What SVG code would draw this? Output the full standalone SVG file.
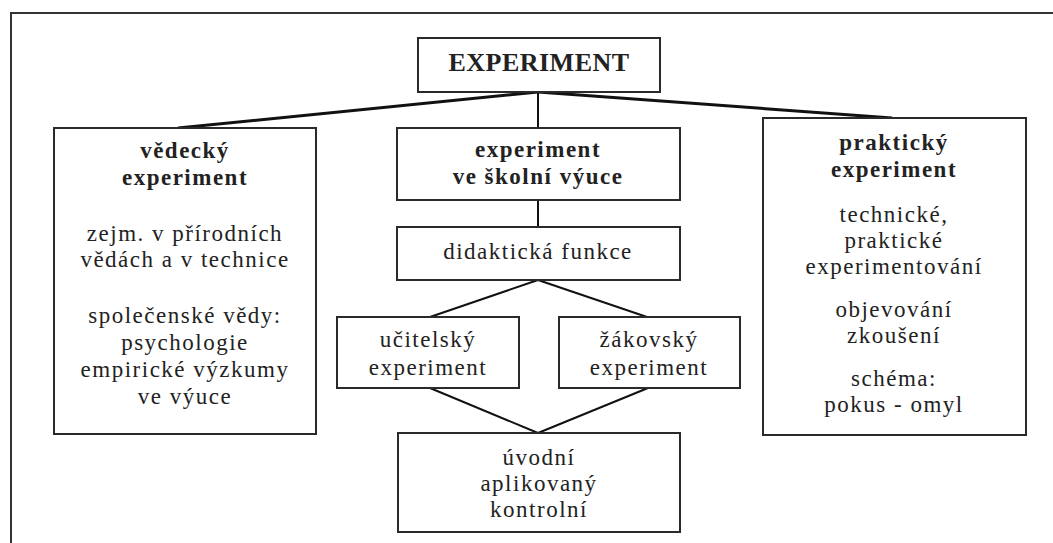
<svg xmlns="http://www.w3.org/2000/svg" width="1053" height="543" viewBox="0 0 1053 543">
<style>
.box{fill:#fff;stroke:#2a2a2a;stroke-width:2}
.frame{fill:none;stroke:#333;stroke-width:2}
.c{stroke:#111;stroke-width:2;fill:none}
.ct{stroke:#111;stroke-width:3;fill:none}
text{fill:#222;text-anchor:middle;font-size:23px;letter-spacing:1.5px}
.b{font-weight:bold}
</style>
<rect width="1053" height="543" fill="#fff"/>
<path class="frame" d="M11,543 V13 H1053"/>
<g id="connectors">
<line class="ct" x1="538" y1="92" x2="178" y2="128"/>
<line class="ct" x1="538" y1="92" x2="892" y2="118"/>
<line class="c" x1="538" y1="92" x2="538" y2="128"/>
<line class="c" x1="538" y1="200" x2="538" y2="227"/>
<line class="c" x1="538" y1="280" x2="430" y2="317"/>
<line class="c" x1="538" y1="280" x2="647" y2="317"/>
<line class="c" x1="430" y1="388" x2="538" y2="433"/>
<line class="c" x1="648" y1="388" x2="538" y2="433"/>
</g>
<g font-family="'Liberation Serif', 'Times New Roman', Times, serif">
<g id="experiment">
<rect class="box" x="418" y="38" width="242" height="54"/>
<text class="b" x="539" y="71" style="font-size:26px;letter-spacing:0.5px">EXPERIMENT</text>
</g>
<g id="vedecky">
<rect class="box" x="54" y="128" width="262" height="306"/>
<text class="b" x="185" y="158">vědecký</text>
<text class="b" x="185" y="185">experiment</text>
<text x="185" y="241">zejm. v přírodních</text>
<text x="185" y="267">vědách a v technice</text>
<text x="185" y="323">společenské vědy:</text>
<text x="185" y="350">psychologie</text>
<text x="185" y="377">empirické výzkumy</text>
<text x="185" y="404">ve výuce</text>
</g>
<g id="skolni">
<rect class="box" x="397" y="128" width="283" height="72"/>
<text class="b" x="538" y="157">experiment</text>
<text class="b" x="538" y="184">ve školní výuce</text>
</g>
<g id="didakticka">
<rect class="box" x="397" y="227" width="283" height="53"/>
<text x="538" y="259">didaktická funkce</text>
</g>
<g id="ucitelsky">
<rect class="box" x="337" y="317" width="182" height="71"/>
<text x="428" y="347">učitelský</text>
<text x="428" y="375">experiment</text>
</g>
<g id="zakovsky">
<rect class="box" x="559" y="317" width="181" height="71"/>
<text x="649" y="347">žákovský</text>
<text x="649" y="375">experiment</text>
</g>
<g id="druhy">
<rect class="box" x="398" y="433" width="282" height="99"/>
<text x="539" y="465">úvodní</text>
<text x="539" y="491">aplikovaný</text>
<text x="539" y="517">kontrolní</text>
</g>
<g id="prakticky">
<rect class="box" x="763" y="118" width="263" height="317"/>
<text class="b" x="894" y="150">praktický</text>
<text class="b" x="894" y="177">experiment</text>
<text x="894" y="222">technické,</text>
<text x="894" y="248">praktické</text>
<text x="894" y="274">experimentování</text>
<text x="894" y="317">objevování</text>
<text x="894" y="343">zkoušení</text>
<text x="894" y="386">schéma:</text>
<text x="894" y="412">pokus - omyl</text>
</g>
</g>
</svg>
